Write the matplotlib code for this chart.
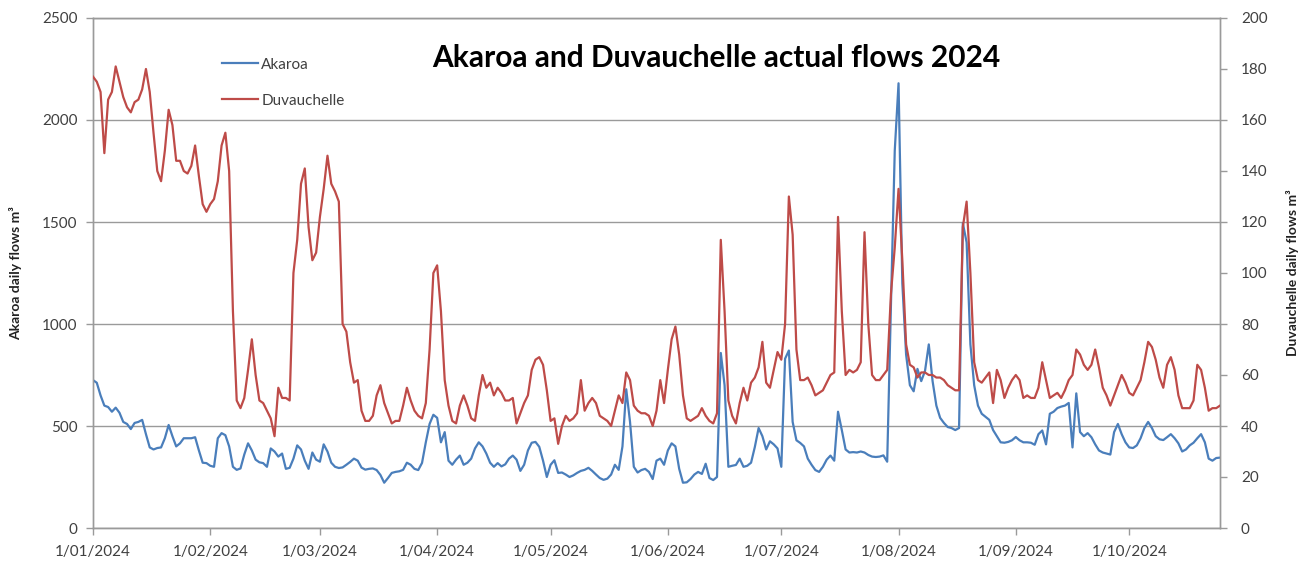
import matplotlib
matplotlib.use("Agg")
import matplotlib.pyplot as plt
import pandas as pd

# ---- data -----------------------------------------------------------------
start_date = "2024-01-01"

# Akaroa daily flow (m3), left axis
akaroa = [
    725, 712, 650, 600, 593, 570, 590, 565, 520, 510,
    485, 515, 520, 530, 460, 395, 385, 392, 395, 440,
    505, 450, 400, 415, 440, 440, 440, 445, 380, 320,
    318, 305, 300, 440, 465, 455, 400, 300, 285, 292,
    360, 415, 380, 335, 322, 318, 300, 390, 375, 350,
    365, 290, 295, 340, 405, 385, 330, 290, 370, 335,
    325, 410, 375, 320, 300, 294, 297, 310, 324, 340,
    330, 296, 286, 290, 292, 284, 260, 222, 245, 270,
    275, 278, 285, 320, 310, 290, 284, 319, 420, 510,
    555, 540, 420, 470, 330, 310, 335, 355, 310, 320,
    340, 390, 420, 400, 365, 320, 300, 318, 302, 312,
    340, 355, 335, 280, 310, 380, 418, 422, 398, 330,
    250, 310, 332, 270, 272, 262, 250, 258, 270, 280,
    285, 295, 280, 262, 245, 236, 242, 262, 310, 285,
    400, 680, 520, 300, 272, 284, 290, 275, 240, 330,
    340, 310, 380, 415, 400, 290, 222, 224, 240, 262,
    275, 265, 315, 245, 235, 250, 858, 700, 300, 305,
    309, 340, 300, 305, 320, 397, 490, 450, 385, 425,
    410, 390, 300, 830, 870, 520, 430, 417, 400, 340,
    310, 284, 275, 300, 335, 355, 330, 570, 480, 385,
    370, 372, 370, 375, 370, 358, 350, 348, 350, 356,
    325, 1100, 1850, 2180, 1200, 850, 700, 670, 780, 720,
    770, 900, 720, 600, 540, 515, 495, 490, 480, 490,
    1495, 1400, 900, 700, 600, 560, 545, 530, 480, 450,
    420, 418, 422, 430, 446, 430, 420, 420, 418, 408,
    460, 478, 410, 560, 570, 588, 595, 600, 613, 395,
    660, 470, 450, 465, 445, 410, 380, 370, 365, 360,
    470, 510, 460, 420, 395, 392, 405, 440, 490, 520,
    490, 450, 435, 431, 445, 460, 440, 415, 375, 385,
    405, 418, 440, 460, 420, 340, 330, 343, 345,
]

# Duvauchelle daily flow (m3), right axis
duvauchelle = [
    177, 175, 171, 147, 168, 171, 181, 175, 169, 165,
    163, 167, 168, 172, 180, 171, 155, 140, 136, 148,
    164, 158, 144, 144, 140, 139, 142, 150, 138, 127,
    124, 127, 129, 136, 150, 155, 140, 85, 50, 47,
    51, 62, 74, 60, 50, 49, 46, 43, 36, 55,
    51, 51, 50, 100, 113, 135, 141, 118, 105, 108,
    122, 133, 146, 135, 132, 128, 80, 77, 65, 57,
    58, 46, 42, 42, 44, 52, 56, 49, 45, 41,
    42, 42, 48, 55, 50, 46, 44, 43, 49, 70,
    100, 103, 85, 58, 48, 42, 41, 48, 52, 48,
    43, 42, 52, 60, 55, 57, 52, 55, 53, 50,
    50, 51, 41, 45, 49, 52, 62, 66, 67, 64,
    54, 42, 43, 33, 40, 44, 42, 43, 45, 58,
    46, 49, 51, 49, 44, 43, 42, 40, 46, 52,
    49, 61, 58, 48, 46, 45, 45, 44, 40, 46,
    58, 49, 62, 74, 79, 68, 52, 43, 42, 43,
    44, 47, 44, 42, 41, 45, 113, 85, 50, 44,
    41, 49, 55, 50, 57, 59, 63, 73, 57, 55,
    62, 69, 66, 80, 130, 115, 70, 58, 58, 59,
    56, 52, 53, 54, 57, 60, 61, 122, 85, 60,
    62, 61, 62, 65, 116, 80, 60, 58, 58, 60,
    62, 92, 110, 133, 105, 72, 64, 63, 59, 61,
    61, 60, 60, 59, 59, 58, 56, 55, 54, 54,
    118, 128, 100, 65, 58, 57, 59, 61, 49, 62,
    58, 51, 55, 58, 60, 58, 51, 52, 51, 51,
    55, 65, 58, 51, 52, 53, 51, 54, 58, 60,
    70, 68, 64, 62, 64, 70, 63, 55, 52, 48,
    52, 56, 60, 57, 53, 52, 55, 58, 65, 73,
    71, 66, 59, 55, 64, 67, 62, 52, 47, 47,
    47, 50, 64, 62, 55, 46, 47, 47, 48,
]

month_starts = ["2024-01-01", "2024-02-01", "2024-03-01", "2024-04-01", "2024-05-01",
                "2024-06-01", "2024-07-01", "2024-08-01", "2024-09-01", "2024-10-01"]
tick_labels = ["1/01/2024", "1/02/2024", "1/03/2024", "1/04/2024", "1/05/2024",
               "1/06/2024", "1/07/2024", "1/08/2024", "1/09/2024", "1/10/2024"]
left_ticks = [0, 500, 1000, 1500, 2000, 2500]
right_ticks = [0, 20, 40, 60, 80, 100, 120, 140, 160, 180, 200]

# ---- figure ---------------------------------------------------------------
plt.rcParams["font.family"] = ["Lato", "DejaVu Sans"]

W, H = 1298, 565
fig = plt.figure(figsize=(W / 100, H / 100), dpi=100)
fig.patch.set_facecolor("white")

x0, x1, y0, y1 = 93, 1220, 18, 528
ax = fig.add_axes([x0 / W, 1 - y1 / H, (x1 - x0) / W, (y1 - y0) / H])
ax2 = ax.twinx()

dates = pd.date_range(start_date, periods=len(akaroa), freq="D")

blue = "#4A7EBB"
red = "#BE4B48"
grid_c = "#9A9A9A"
text_c = "#404040"

l1, = ax.plot(dates, akaroa, color=blue, lw=1.6, label="Akaroa", zorder=3)
l2, = ax2.plot(dates, duvauchelle, color=red, lw=1.6, label="Duvauchelle", zorder=3)

ax.set_xlim(dates[0], dates[-1])
ax.set_ylim(0, 2500)
ax2.set_ylim(0, 200)

ax.set_yticks(left_ticks)
ax2.set_yticks(right_ticks)
ax.set_xticks(pd.to_datetime(month_starts))
ax.set_xticklabels(tick_labels)

ax.yaxis.grid(True, color=grid_c, lw=1.0)
ax.set_axisbelow(True)

for a in (ax, ax2):
    for s in a.spines.values():
        s.set_color(grid_c)
        s.set_linewidth(1.0)

ax.tick_params(axis="y", direction="out", length=5, width=1, color=grid_c,
               labelsize=11, labelcolor=text_c, pad=6)
ax.tick_params(axis="x", direction="out", length=5, width=1, color=grid_c,
               labelsize=11, labelcolor=text_c, pad=7)
ax2.tick_params(axis="y", direction="out", length=5, width=1, color=grid_c,
                labelsize=11, labelcolor=text_c, pad=10)

ax.set_ylabel("Akaroa daily flows m³", fontsize=10, fontweight="bold", color="#222222")
ax.yaxis.set_label_coords(-(93 - 22) / (x1 - x0), 0.5)
ax2.set_ylabel("Duvauchelle daily flows m³", fontsize=10, fontweight="bold", color="#222222",
               rotation=90)
ax2.yaxis.set_label_coords(1 + (1286 - 1220) / (x1 - x0), 0.5)

fig.text(716 / W, 1 - 58 / H, "Akaroa and Duvauchelle actual flows 2024",
         fontsize=21.5, fontweight="bold", color="black", ha="center", va="center")

leg = ax2.legend(handles=[l1, l2], loc="upper left",
                 bbox_to_anchor=(214 / W, 1 - 50 / H), bbox_transform=fig.transFigure,
                 frameon=False, fontsize=11, handlelength=2.4, handletextpad=0.2,
                 labelspacing=1.45, borderpad=0)
for t in leg.get_texts():
    t.set_color(text_c)

fig.savefig("out.png", dpi=100)
